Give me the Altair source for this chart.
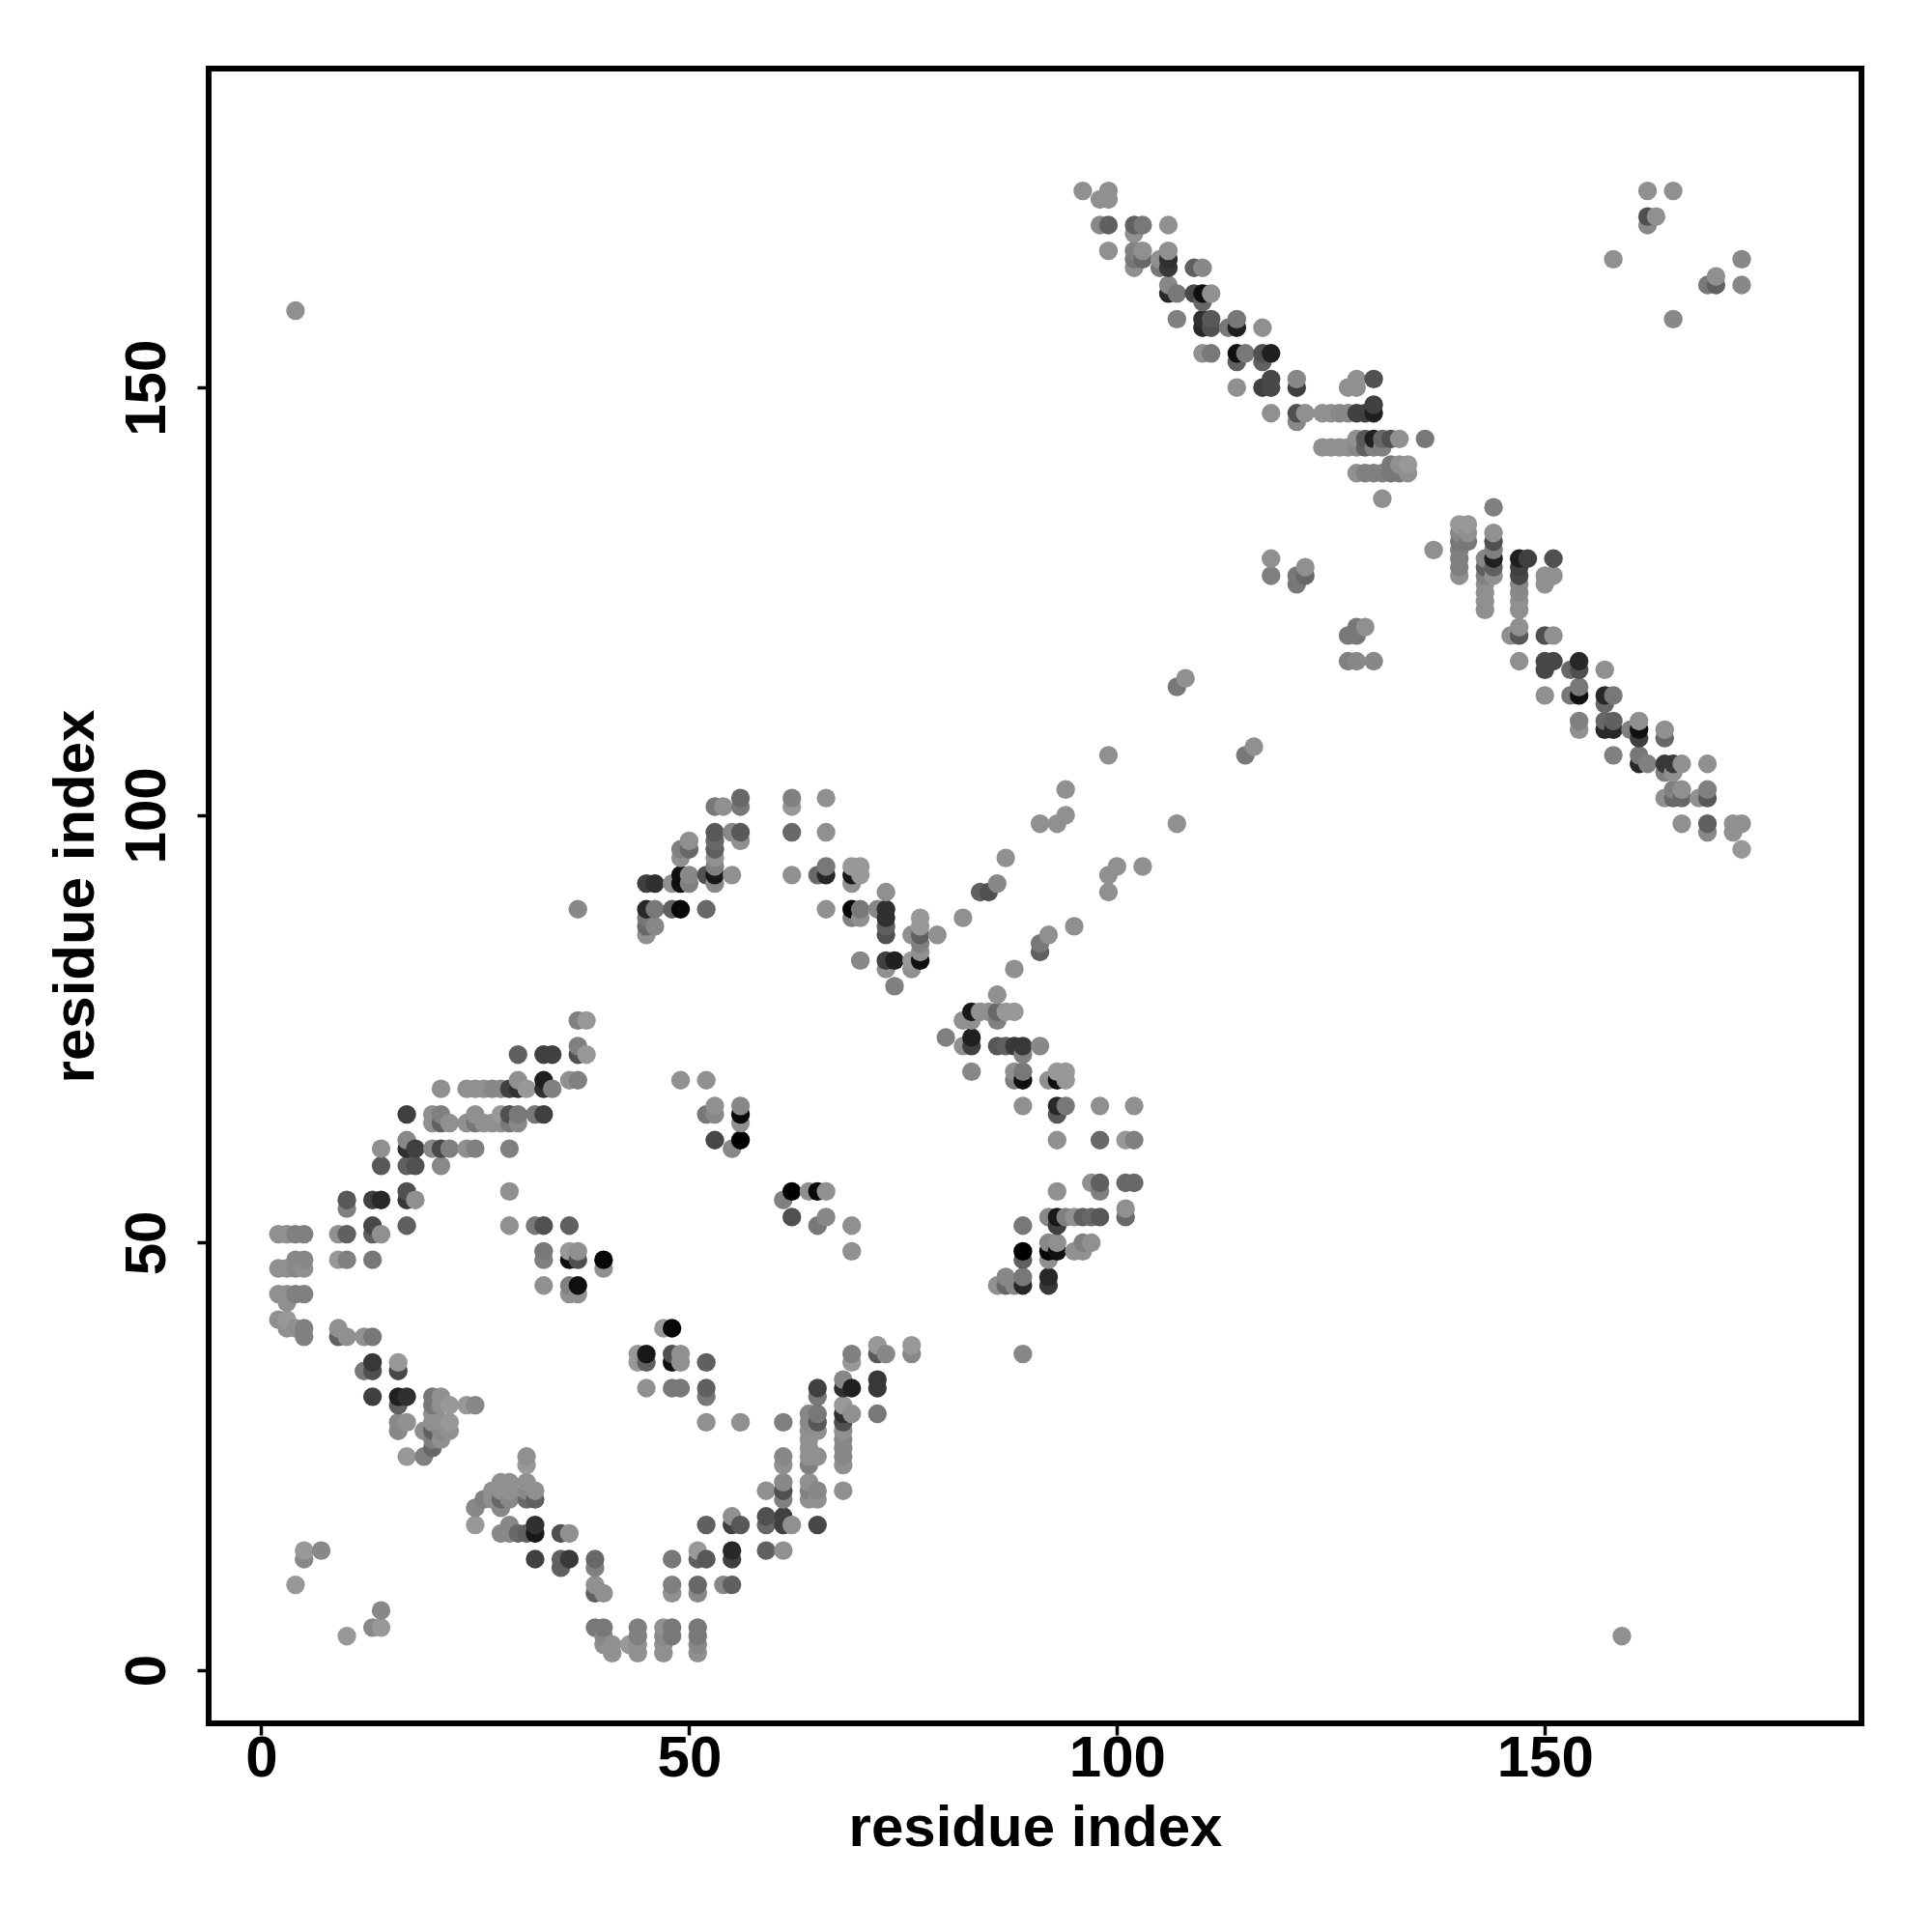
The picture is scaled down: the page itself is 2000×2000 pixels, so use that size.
import altair as alt
import pandas as pd

# (residue x, residue y, grey level 0-255)
left_arc_low = [
(2,51,0x88),(3,51,0x88),(4,51,0x78),(5,51,0x78),(9,51,0x88),(10,51,0x60),(13,51,0x60),(14,51,0x88),
(4,48,0x80),(5,48,0x80),(9,48,0x90),(10,48,0x78),(13,48,0x70),
(2,47,0x88),(3,47,0x88),(4,47,0x80),(5,47,0x88),
(2,44,0x88),(3,44,0x88),(4,44,0x78),(5,44,0x78),(3,43,0x88),
(2,41,0x88),(3,41,0x90),(3,40,0x88),(4,40,0x88),(5,40,0x78),(5,39,0x78),
(9,40,0x88),(9,39,0x60),(10,39,0x88),(12,39,0x88),(13,39,0x70),
(13,36,0x38),(12,35,0x70),(13,35,0x50),(16,36,0x90),(16,35,0x48),
(13,32,0x40),(16,32,0x20),(17,32,0x30),(16,31,0x60),
(16,29,0x80),(17,29,0x88),(16,28,0x80),(17,25,0x90),
(19,28,0x88),(19,25,0x78),(20,32,0x70),(20,31,0x70),(20,30,0x88),(20,29,0x88),(20,28,0x60),(20,27,0x78),(20,26,0x68),
(21,32,0x88),(21,31,0x88),(21,29,0x88),(21,28,0x80),(21,27,0x88),
(22,31,0x90),(22,29,0x90),(22,28,0x88),(24,31,0x90),(25,31,0x80),
]
left_arc_bottom = [
(25,19,0x80),(25,17,0x90),(26,20,0x78),(27,21,0x88),(27,20,0x88),(28,22,0x88),(28,21,0x88),(28,20,0x68),(28,19,0x80),(28,16,0x80),
(29,22,0x88),(29,21,0x88),(29,20,0x80),(29,17,0x80),(29,16,0x80),
(30,16,0x68),(31,25,0x88),(31,24,0x90),(31,22,0x88),(31,21,0x80),(31,20,0x68),(31,16,0x60),
(32,21,0x88),(32,20,0x60),(32,17,0x30),(32,16,0x18),(32,13,0x40),
(35,16,0x50),(36,16,0x88),(35,13,0x60),(35,12,0x60),(36,13,0x38),
(39,13,0x68),(39,12,0x78),(39,10,0x88),(39,9,0x60),(40,9,0x88),
(48,13,0x70),(48,10,0x78),(48,9,0x88),
(39,5,0x70),(40,5,0x70),(40,4,0x80),(40,3,0x88),(41,3,0x88),(41,2,0x88),
(43,3,0x90),(44,5,0x78),(44,4,0x78),(44,3,0x88),(44,2,0x88),
(47,5,0x88),(48,5,0x70),(47,4,0x80),(48,4,0x70),(47,3,0x88),(47,2,0x88),
(5,14,0x90),(5,13,0x80),(7,14,0x80),(4,10,0x90),(14,7,0x80),(13,5,0x80),(14,5,0x90),(10,4,0x90),
(159,4,0x88),(4,159,0x88),
]
inner_low = [
(33,49,0x70),(33,48,0x78),(36,49,0x90),(37,49,0x88),(36,48,0x10),(37,48,0x50),(40,48,0x08),(40,47,0x88),
(33,45,0x88),(36,45,0x78),(37,45,0x10),(36,44,0x88),(37,44,0x88),
(47,40,0x90),(48,40,0x08),(44,37,0x90),(45,37,0x18),(44,36,0x90),(45,36,0x60),
(48,37,0x50),(48,36,0x10),(49,37,0x88),(49,36,0x88),(45,33,0x88),(48,33,0x70),(49,33,0x70),
(52,36,0x60),(52,33,0x60),(52,32,0x70),(52,29,0x88),(56,29,0x88),
(29,56,0x88),(29,52,0x88),(32,52,0x70),(33,52,0x50),(36,52,0x60),
(49,69,0x88),(52,69,0x88),(53,66,0x88),(52,65,0x70),(53,65,0x80),(56,66,0x80),(56,65,0x08),(56,64,0x88),
(53,62,0x48),(56,62,0x00),(55,61,0x80),
(62,56,0x00),(61,55,0x78),(64,56,0x88),(65,56,0x08),(66,56,0x88),(62,53,0x50),(65,52,0x70),(66,53,0x80),(69,52,0x88),(69,49,0x88),
]
left_arc_high = [
(37,76,0x78),(38,76,0x90),(30,72,0x60),(33,72,0x40),(34,72,0x40),(37,72,0x50),(38,72,0x90),(37,73,0x78),
(30,69,0x88),(33,69,0x20),(36,69,0x88),(37,69,0x78),
(21,68,0x88),(24,68,0x88),(25,68,0x88),(26,68,0x88),(27,68,0x80),(28,68,0x80),(29,68,0x40),(30,68,0x30),(31,68,0x90),(33,68,0x30),(34,68,0x78),
(17,65,0x40),(20,65,0x88),(21,65,0x78),(25,65,0x88),(28,65,0x90),(29,65,0x50),(30,65,0x70),(32,65,0x70),(33,65,0x40),
(20,64,0x88),(21,64,0x60),(22,64,0x88),(24,64,0x88),(25,64,0x70),(26,64,0x88),(27,64,0x88),(28,64,0x88),(29,64,0x70),(30,64,0x80),
(17,62,0x80),(14,61,0x88),(17,61,0x30),(18,61,0x40),(20,61,0x80),(21,61,0x48),(22,61,0x78),(24,61,0x88),(25,61,0x78),(29,61,0x78),
(14,59,0x58),(17,59,0x60),(18,59,0x50),(21,59,0x80),(17,56,0x50),
(10,55,0x58),(13,55,0x40),(14,55,0x28),(17,55,0x38),(18,55,0x88),(10,54,0x78),
(13,52,0x48),(17,52,0x60),
]
top_arc = [
(53,101,0x70),(54,101,0x88),(56,102,0x68),(56,101,0x70),(62,102,0x78),(62,101,0x90),(66,102,0x88),
(56,98,0x58),(55,98,0x80),(56,97,0x88),(62,98,0x68),(66,98,0x88),
(53,98,0x58),(53,97,0x68),(53,96,0x60),(53,95,0x88),(53,94,0x78),(53,93,0x18),(53,92,0x80),(52,93,0x50),
(50,97,0x88),(49,96,0x78),(50,96,0x68),(49,95,0x88),(49,93,0x10),(49,92,0x10),(50,93,0x80),(50,92,0x78),(48,92,0x88),
(45,92,0x40),(46,92,0x30),(55,93,0x88),(62,93,0x88),(65,93,0x68),(66,94,0x70),(66,93,0x28),
(69,94,0x90),(70,94,0x90),(69,93,0x18),(70,93,0x90),(69,92,0x88),
(73,91,0x88),(73,89,0x30),(73,88,0x30),(72,89,0x80),(73,87,0x60),(73,86,0x50),
(66,89,0x88),(69,89,0x08),(70,89,0x70),(69,88,0x78),(70,88,0x88),
(37,89,0x80),(45,89,0x28),(46,89,0x70),(48,89,0x60),(49,89,0x08),(52,89,0x68),
(45,88,0x70),(45,87,0x68),(46,87,0x80),(45,86,0x88),
(77,88,0x90),(77,87,0x90),(76,86,0x88),(77,86,0x60),(79,86,0x88),(77,85,0x78),(77,84,0x88),(77,83,0x10),(76,83,0x90),(76,82,0x88),
(70,83,0x80),(73,83,0x40),(74,83,0x20),(73,82,0x88),(74,80,0x78),
(82,88,0x88),(84,91,0x60),(85,91,0x50),(86,92,0x80),(87,95,0x88),
]
right_arc_low = [
(88,82,0x88),(86,79,0x88),
(83,77,0x18),(84,77,0x88),(85,77,0x88),(86,77,0x68),(87,77,0x90),(88,77,0x90),(82,76,0x88),(83,76,0x88),(86,76,0x78),
(80,74,0x78),(83,74,0x20),(82,73,0x88),(83,73,0x40),(86,73,0x58),(87,73,0x60),(88,73,0x38),(89,73,0x38),(91,73,0x80),(89,72,0x78),
(83,70,0x80),(88,70,0x88),(89,70,0x70),(88,69,0x78),(89,69,0x10),(92,69,0x88),(93,69,0x10),(93,70,0x90),(94,70,0x90),(94,69,0x90),
(89,66,0x88),(93,66,0x28),(94,66,0x70),(98,66,0x88),(102,66,0x88),(93,65,0x58),
(93,62,0x88),(98,62,0x68),(101,62,0x90),(102,62,0x78),
(97,57,0x88),(98,57,0x60),(101,57,0x68),(102,57,0x68),(93,56,0x88),(98,56,0x78),(101,54,0x88),
(92,53,0x80),(93,53,0x18),(94,53,0x78),(95,53,0x88),(96,53,0x60),(97,53,0x68),(98,53,0x58),(101,53,0x68),
(89,52,0x70),(93,52,0x40),(92,50,0x80),(93,50,0x88),(96,50,0x78),(97,50,0x88),
(89,49,0x00),(92,49,0x08),(93,49,0x10),(95,49,0x88),(96,49,0x88),(89,48,0x60),(92,48,0x88),
(87,46,0x80),(89,46,0x70),(92,46,0x28),(86,45,0x88),(87,45,0x68),(88,45,0x80),(89,45,0x28),(92,45,0x38),(89,37,0x80),
]
mid_low = [
(69,37,0x78),(69,36,0x90),(72,38,0x90),(73,37,0x80),(72,37,0x58),(76,38,0x90),(76,37,0x80),
(68,34,0x80),(68,33,0x30),(69,33,0x20),(72,34,0x38),(72,33,0x38),(65,33,0x40),(65,32,0x70),(72,30,0x70),(61,29,0x78),
(64,30,0x80),(65,30,0x70),(64,29,0x80),(65,29,0x58),(64,28,0x88),(65,28,0x88),(64,27,0x88),(64,26,0x88),(65,25,0x88),(64,25,0x88),(64,24,0x78),
(68,31,0x90),(69,30,0x88),(68,30,0x30),(68,29,0x50),(68,28,0x88),(68,27,0x80),(68,26,0x80),(68,25,0x80),(68,24,0x88),
(61,25,0x80),(61,24,0x88),(61,22,0x80),(61,21,0x50),(61,20,0x78),(59,21,0x88),
(64,22,0x88),(64,21,0x78),(64,20,0x88),(65,21,0x80),(65,20,0x88),(68,21,0x88),
(55,18,0x88),(55,17,0x40),(56,17,0x58),(52,17,0x60),(59,18,0x50),(59,17,0x68),(61,18,0x40),(61,17,0x40),(62,17,0x88),(65,17,0x48),
(59,14,0x60),(61,14,0x88),(55,14,0x28),(55,13,0x40),(51,14,0x90),(51,13,0x60),(52,13,0x58),
(54,10,0x80),(55,10,0x60),(51,10,0x68),(51,9,0x80),(51,5,0x70),(51,4,0x70),(51,3,0x80),(51,2,0x88),
]
diagonal_links = [
(91,99,0x88),(93,99,0x88),(94,100,0x88),(94,103,0x88),(99,107,0x88),(95,87,0x88),(99,93,0x88),(99,91,0x88),(100,94,0x88),(103,94,0x88),
(107,99,0x88),(107,115,0x70),(108,116,0x88),(115,107,0x70),(116,108,0x88),(91,84,0x60),(91,85,0x70),(92,86,0x88),
(118,130,0x88),(118,128,0x78),(121,128,0x70),(122,129,0x88),(122,128,0x68),(121,127,0x70),
(128,122,0x70),(129,122,0x88),(127,121,0x70),(128,121,0x70),(127,118,0x78),(128,118,0x80),(130,118,0x80),
]
upper_band_a = [
(96,173,0x88),(99,173,0x88),(98,172,0x88),(99,172,0x88),
(98,169,0x80),(99,169,0x60),(102,169,0x60),(103,169,0x70),(102,168,0x88),(106,169,0x88),
(99,166,0x88),(102,166,0x78),(103,166,0x88),(102,165,0x70),(103,165,0x68),(102,164,0x88),(105,165,0x88),(105,164,0x70),(106,166,0x88),(106,165,0x30),(106,164,0x38),
(109,164,0x60),(110,164,0x80),(106,162,0x80),(106,161,0x28),(107,161,0x70),(109,161,0x48),(110,161,0x10),(111,161,0x88),(110,160,0x68),
(107,158,0x78),(110,158,0x30),(111,158,0x58),(110,157,0x28),(111,157,0x50),(113,157,0x70),(114,158,0x70),(114,157,0x20),(117,157,0x88),
(110,154,0x88),(111,154,0x70),(114,154,0x10),(115,154,0x70),(114,153,0x60),(117,154,0x50),(118,154,0x20),(117,153,0x60),
(114,150,0x88),(117,150,0x40),(118,151,0x48),(118,150,0x48),(121,151,0x80),(121,150,0x40),
(118,147,0x88),(121,147,0x50),(122,147,0x88),(121,146,0x80),
(124,147,0x88),(125,147,0x88),(126,147,0x80),(127,147,0x80),(128,147,0x40),(129,147,0x40),(130,147,0x20),(130,148,0x40),
(128,151,0x88),(127,150,0x88),(128,150,0x88),(130,151,0x50),
]
upper_band_b = [
(128,144,0x88),(129,144,0x58),(130,144,0x20),(131,144,0x68),(132,144,0x50),(133,144,0x88),(136,144,0x70),
(124,143,0x88),(125,143,0x88),(126,143,0x88),(127,143,0x88),(128,143,0x80),(129,143,0x60),(130,143,0x78),(131,143,0x78),
(132,141,0x70),(133,141,0x88),(134,141,0x90),
(128,140,0x88),(129,140,0x78),(130,140,0x78),(131,140,0x78),(132,140,0x70),(133,140,0x70),(134,140,0x88),(131,137,0x88),
(144,136,0x78),(140,134,0x90),(141,134,0x90),(140,133,0x80),(141,133,0x88),(140,132,0x70),(141,132,0x70),(140,131,0x78),(140,130,0x78),(140,129,0x78),(140,128,0x88),(137,131,0x88),
(144,133,0x88),(144,132,0x50),(144,131,0x78),(144,130,0x20),(144,129,0x60),(144,128,0x88),
(143,130,0x80),(143,129,0x60),(143,128,0x78),(143,127,0x88),(143,126,0x88),(143,125,0x88),(143,124,0x88),
(147,130,0x20),(148,130,0x40),(147,129,0x40),(147,128,0x48),(147,127,0x80),(147,126,0x80),(147,125,0x88),(147,124,0x88),(151,130,0x50),
(150,128,0x88),(151,128,0x88),(150,127,0x88),
]
lower_band = [
(147,122,0x88),(146,121,0x88),(147,121,0x58),(150,121,0x50),(151,121,0x88),
(147,118,0x88),(150,118,0x48),(151,118,0x48),(150,117,0x48),(153,117,0x68),(154,118,0x28),(154,117,0x50),(157,117,0x88),
(150,114,0x88),(153,114,0x70),(154,115,0x70),(154,114,0x10),(157,114,0x28),(158,114,0x70),(157,113,0x68),
(154,111,0x78),(154,110,0x88),(157,111,0x68),(158,111,0x60),(157,110,0x28),(158,110,0x28),(160,110,0x78),(161,111,0x88),(161,110,0x10),(161,109,0x40),(164,110,0x88),(164,109,0x68),
(158,107,0x78),(161,107,0x70),(161,106,0x28),(162,106,0x78),(164,106,0x38),(165,106,0x38),(166,106,0x88),(164,105,0x78),(165,105,0x88),(169,106,0x88),
(165,103,0x78),(166,103,0x88),(164,102,0x88),(165,102,0x68),(166,102,0x68),(168,102,0x88),(169,103,0x78),(169,102,0x58),
(166,99,0x88),(169,99,0x60),(169,98,0x80),(172,99,0x88),(173,99,0x88),(172,98,0x88),(173,96,0x90),
(162,173,0x88),(165,173,0x88),(162,170,0x50),(163,170,0x88),(162,169,0x80),(158,165,0x88),(165,158,0x80),
(169,162,0x70),(170,163,0x88),(170,162,0x60),(173,165,0x80),(173,162,0x80),
]

all_points = (left_arc_low + left_arc_bottom + inner_low + left_arc_high + top_arc + right_arc_low
              + mid_low + diagonal_links + upper_band_a + upper_band_b + lower_band)
df = pd.DataFrame(all_points, columns=["x", "y", "g"]).sort_values(["x", "y"], kind="stable")
df["c"] = ["#" + f"{(g + 8 if g >= 0x70 else g):02x}" * 3 for g in df["g"]]

tick_values = [0, 50, 100, 150]
x_domain = [-6.15, 187.0]
y_domain = [-6.2, 187.3]
FONT = "Liberation Sans"


def axis(**kw):
    return alt.Axis(values=tick_values, grid=False, domain=False, tickColor="black", tickWidth=3.5,
                    tickSize=12, labelFont=FONT, labelFontWeight="bold", labelFontSize=60, labelColor="black",
                    titleFont=FONT, titleFontWeight="bold", titleFontSize=60, titleColor="black",
                    labelOverlap=False, labelFlush=False, **kw)


chart = (
    alt.Chart(df)
    .mark_circle(size=375, opacity=1)
    .encode(
        x=alt.X("x:Q", title="residue index", scale=alt.Scale(domain=x_domain, nice=False, zero=False),
                axis=axis(labelPadding=-5, titlePadding=13)),
        y=alt.Y("y:Q", title="residue index", scale=alt.Scale(domain=y_domain, nice=False, zero=False),
                axis=axis(labelAngle=270, labelAlign="center", labelBaseline="bottom", labelPadding=20.5, titlePadding=13.5)),
        color=alt.Color("c:N", scale=None),
        order=alt.Order("rank:Q"),
    )
    .transform_window(rank="row_number()")
    .properties(width=1711, height=1713, background="white", padding={"left": 40, "top": 63, "right": 5, "bottom": 5})
    .configure_view(stroke="black", strokeWidth=6)
)

chart.save("out.html", embed_options={"renderer": "svg", "actions": False})
